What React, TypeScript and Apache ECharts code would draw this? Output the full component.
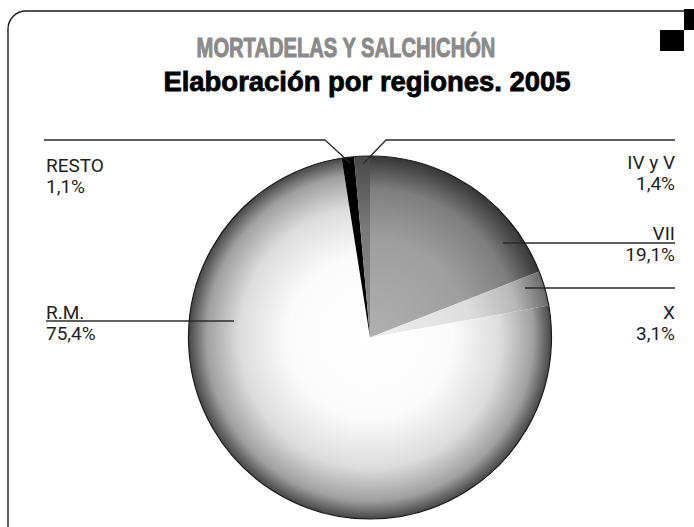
import React, { useEffect, useRef } from 'react';
import * as echarts from 'echarts';

const TITLE = 'MORTADELAS Y SALCHICHÓN';
const SUBTITLE = 'Elaboración por regiones. 2005';
const regions = ['VII', 'X', 'R.M.', 'RESTO', 'IV y V'];
const shares = [19.1, 3.1, 75.4, 1.1, 1.4];

// geometry / styles (not data)
const CX = 370;
const CY = 337.5;
const R = 181.5;

const shadeStops: [number, string][][] = [
  [[0, '#b0b0b0'], [0.55, '#9e9e9e'], [0.82, '#7e7e7e'], [1, '#363636']],
  [[0, '#eeeeee'], [0.55, '#dedede'], [0.82, '#b8b8b8'], [1, '#6a6a6a']],
  [[0, '#ffffff'], [0.45, '#fbfbfb'], [0.72, '#dcdcdc'], [0.9, '#a0a0a0'], [1, '#464646']],
  [[0, '#000000'], [1, '#000000']],
  [[0, '#8a8a8a'], [0.6, '#7a7a7a'], [1, '#484848']],
];

const labelGuides = [
  { pts: [[503, 243], [589, 243], [675, 243]], x: 675, top: 223, align: 'right' },
  { pts: [[525, 288], [600, 288], [675, 288]], x: 675, top: 302, align: 'right' },
  { pts: [[234, 321], [140, 321], [46, 321]], x: 46, top: 301.5, align: 'left' },
  { pts: [[350, 163], [325, 140], [44, 140]], x: 46, top: 155, align: 'left' },
  { pts: [[363, 164], [386, 140], [675, 140]], x: 675, top: 152, align: 'right' },
];

function fmt(v: number) {
  return v.toFixed(1).replace('.', ',') + '%';
}

export default function App() {
  const ref = useRef<HTMLDivElement>(null);
  useEffect(() => {
    if (!ref.current) return;
    const chart = echarts.init(ref.current, undefined, { renderer: 'svg' });
    const shaded = regions.map((name, i) => ({
      name,
      value: shares[i],
      itemStyle: {
        color: new echarts.graphic.RadialGradient(
          CX,
          CY,
          R,
          shadeStops[i].map(([offset, color]) => ({ offset, color })),
          true
        ),
      },
    }));
    const plain = regions.map((name, i) => ({ name, value: shares[i] }));
    const pieBase = {
      type: 'pie',
      center: [CX, CY],
      radius: R,
      startAngle: 90,
      clockwise: true,
      silent: true,
      emphasis: { disabled: true },
    };
    chart.setOption({
      animation: false,
      backgroundColor: '#ffffff',
      graphic: [
        {
          type: 'rect',
          shape: { x: 8, y: 11, width: 740, height: 540, r: 18 },
          style: { fill: 'none', stroke: '#1a1a1a', lineWidth: 1.4 },
          z: 1,
        },
        { type: 'rect', shape: { x: 660, y: 30, width: 24, height: 21 }, style: { fill: '#000' }, z: 2 },
        { type: 'rect', shape: { x: 684, y: 9, width: 10, height: 21 }, style: { fill: '#000' }, z: 2 },
        {
          type: 'text',
          x: 346,
          y: 47.3,
          scaleX: 0.72,
          style: {
            text: TITLE,
            fill: '#8a8a8a',
            stroke: '#8a8a8a',
            lineWidth: 1,
            font: 'bold 28px "Liberation Sans", Arial, sans-serif',
            align: 'center',
            verticalAlign: 'middle',
            textAlign: 'center',
            textVerticalAlign: 'middle',
          },
          z: 2,
        },
        {
          type: 'text',
          x: 367,
          y: 81.7,
          scaleX: 0.98,
          style: {
            text: SUBTITLE,
            fill: '#000000',
            stroke: '#000000',
            lineWidth: 0.8,
            font: 'bold 28px "Liberation Sans", Arial, sans-serif',
            align: 'center',
            verticalAlign: 'middle',
            textAlign: 'center',
            textVerticalAlign: 'middle',
          },
          z: 2,
        },
      ],
      series: [
        {
          ...pieBase,
          label: { show: false },
          labelLine: { show: false },
          itemStyle: { borderWidth: 0 },
          data: shaded,
          z: 2,
        },
        {
          ...pieBase,
          avoidLabelOverlap: false,
          minShowLabelAngle: 0,
          itemStyle: { color: 'rgba(0,0,0,0)', borderWidth: 0 },
          label: {
            show: true,
            position: 'outside',
            formatter: (p: any) => p.name + '\n' + fmt(p.value),
            fontFamily: 'Roboto, "Liberation Sans", sans-serif',
            fontSize: 19,
            lineHeight: 21,
            color: '#1e1e1e',
          },
          labelLine: {
            show: true,
            length: 10,
            length2: 10,
            lineStyle: { color: '#2a2a2a', width: 1.3 },
          },
          labelLayout: (params: any) => {
            const g = labelGuides[params.dataIndex];
            return {
              x: g.x,
              y: g.top,
              align: g.align,
              verticalAlign: 'top',
              labelLinePoints: g.pts,
            };
          },
          data: plain,
          z: 3,
        },
        {
          type: 'pie',
          center: [CX, CY],
          radius: R,
          silent: true,
          emphasis: { disabled: true },
          label: { show: false },
          labelLine: { show: false },
          itemStyle: { color: 'rgba(0,0,0,0)', borderColor: '#1a1a1a', borderWidth: 1.2 },
          data: [{ value: 1, name: '' }],
          z: 4,
        },
      ],
    });
    return () => chart.dispose();
  }, []);
  return (
    <div
      ref={ref}
      style={{ position: 'fixed', left: 0, top: 0, width: 694, height: 527 }}
    />
  );
}
